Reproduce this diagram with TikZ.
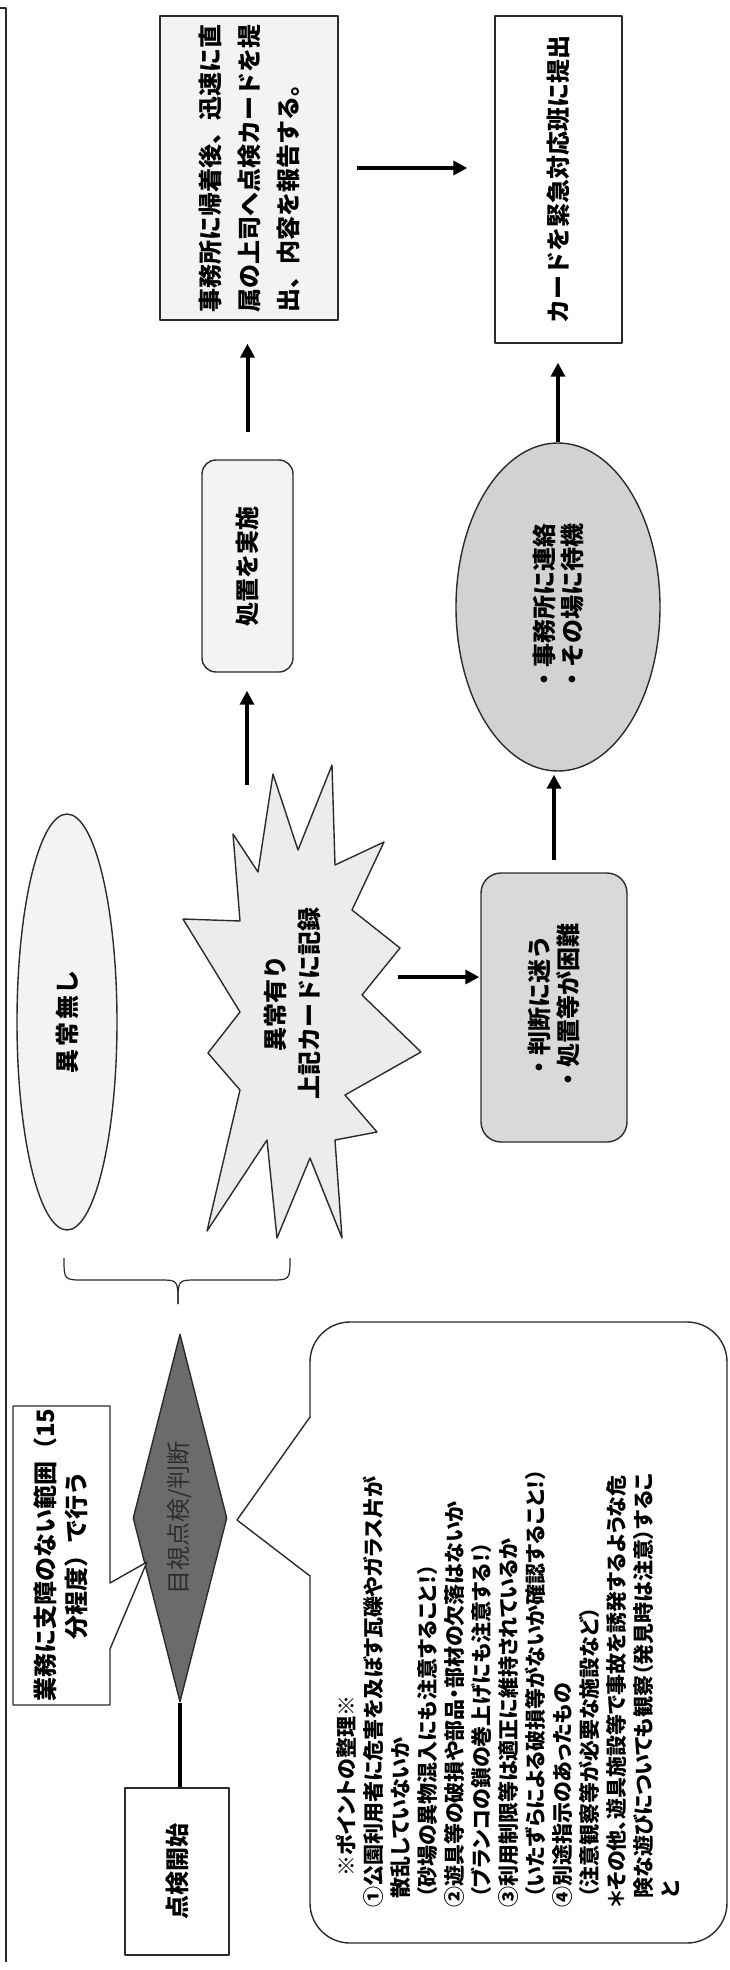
\documentclass[tikz,border=0pt]{standalone}
\usepackage{fontspec}
\setmainfont{Noto Sans CJK JP}
\newfontfamily\jpp{Noto Sans CJK JP}[RawFeature=+palt]
\usetikzlibrary{shapes.geometric,arrows.meta}
\definecolor{linec}{HTML}{2B2B2B}
\definecolor{pale}{HTML}{F3F3F3}
\definecolor{starc}{HTML}{ECECEC}
\definecolor{midg}{HTML}{D9D9D9}
\definecolor{ellg}{HTML}{D2D2D2}
\definecolor{dia}{HTML}{6B6B6B}
\definecolor{diatext}{HTML}{2E2E2E}
\tikzset{
  shp/.style={draw=linec, line width=1.4pt},
  lbl/.style={font=\bfseries\fontsize{24}{30}\selectfont, align=center},
  rot/.style={rotate=90, inner sep=0pt},
  arr/.style={line width=4pt, draw=black, -{Triangle[length=14pt,width=14pt]}},
}
\begin{document}
\begin{tikzpicture}[x=1pt, y=-1pt, line join=round]
\useasboundingbox (0,0) rectangle (730,1970);
% outer frame
\draw[line width=1.2pt, linec] (0,8) -- (6,8) -- (6,1962);

% start box
\node[shp, rot, fill=white, minimum width=167pt, minimum height=104pt, lbl] (start) at (177,1871.5) {点検開始};

% diamond
\node[diamond, shp, rot, fill=dia, aspect=4, minimum width=368pt, minimum height=94pt,
      font=\fontsize{24}{30}\selectfont, text=diatext] (diam) at (180,1518) {目視点検/判断};
\draw[line width=3.5pt] (diam.west) -- (diam.west |- start.east);

% callout box
\draw[shp, fill=white] (13,1406) -- (110,1406) -- (110,1583) -- (147,1562) -- (110,1649) -- (110,1705) -- (13,1705) -- cycle;
\node[rot, lbl, font=\bfseries\fontsize{24}{31}\selectfont] (gyomu) at (61,1555) {業務に支障のない範囲（15\\分程度）で行う};

% speech bubble
\node[shp, fill=white, rounded corners=40pt, minimum width=417pt, minimum height=621pt] (bubble) at (518.5,1632.5) {};
\fill[white] (308.4,1418) -- (238,1520) -- (308.4,1575) -- (312,1575) -- (312,1418) -- cycle;
\draw[shp] (310,1417) -- (237,1520) -- (310,1576);
\node[rot, anchor=north west, align=left, font=\jpp\bfseries\fontsize{21}{27}\selectfont] (btext) at (336,1908) {%
\hspace*{1.5em}※ポイントの整理※\\
①公園利用者に危害を及ぼす瓦礫やガラス片が\\
\hspace*{0.45em}散乱していないか\\
\hspace*{0.45em}（砂場の異物混入にも注意すること！）\\
②遊具等の破損や部品・部材の欠落はないか\\
\hspace*{0.45em}（ブランコの鎖の巻上げにも注意する！）\\
③利用制限等は適正に維持されているか\\
\hspace*{0.45em}（いたずらによる破損等がないか確認すること！）\\
④別途指示のあったもの\\
\hspace*{0.45em}（注意観察等が必要な施設など）\\
＊その他、遊具施設等で事故を誘発するような危\\
\hspace*{0.45em}険な遊びについても観察（発見時は注意）するこ\\
\hspace*{0.45em}と};

% brace
\draw[line width=1.2pt, linec] (64,1258) .. controls (64,1280) .. (84,1280) -- (160,1280) .. controls (178,1280) .. (178,1304);
\draw[line width=1.2pt, linec] (290,1258) .. controls (290,1280) .. (270,1280) -- (196,1280) .. controls (178,1280) .. (178,1304);

% no abnormality ellipse
\node[ellipse, shp, fill=pale, rot, minimum width=416pt, minimum height=100pt, lbl] (nasi) at (67,1022) {異\hspace{3pt}常\hspace{3pt}無\hspace{1pt}し};

% star
\draw[shp, fill=starc] (273,774) -- (298,850) -- (332,765) -- (335,865) -- (384,842) -- (352,910)
  -- (400,948) -- (362,995) -- (421,1052) -- (345,1095) -- (377,1132) -- (335,1140)
  -- (342,1238) -- (310,1158) -- (277,1238) -- (267,1140) -- (207,1231) -- (240,1090)
  -- (208,1053) -- (240,1012) -- (183,919) -- (240,921) -- (233,834) -- (258,872) -- cycle;
\node[rot, lbl, font=\bfseries\fontsize{24}{34}\selectfont] (star) at (292,1003) {異常有り\\上記カードに記録};
\coordinate (sT) at (247,785);
\coordinate (sR) at (398,977);

% action box
\node[shp, rot, fill=pale, rounded corners=14pt, minimum width=212pt, minimum height=91pt, lbl] (shochi) at (247.5,566) {処置を実施};

% report box
\node[shp, rot, fill=pale, minimum width=304pt, minimum height=178pt, align=left,
      font=\bfseries\fontsize{24}{39}\selectfont] (jimusho) at (249,168) {事務所に帰着後、迅速に直\\属の上司へ点検カードを提\\出、内容を報告する。};

% card box
\node[shp, rot, fill=white, minimum width=327pt, minimum height=127pt, lbl] (card) at (558.5,179.5) {カードを緊急対応班に提出};

% contact ellipse
\node[ellipse, shp, rot, fill=ellg, minimum width=328pt, minimum height=204pt, align=left,
      font=\bfseries\fontsize{24}{28}\selectfont] (renraku) at (558,607) {・事務所に連絡\\・その場に待機};

% difficult box
\node[shp, rot, fill=midg, rounded corners=20pt, minimum width=269pt, minimum height=146pt, align=center,
      font=\bfseries\fontsize{24}{29}\selectfont] (handan) at (554,1007.5) {・判断に迷う\\・処置等が困難};

% arrows
\draw[arr, shorten >=18pt] (sT) -- (sT |- shochi.west);
\draw[arr, shorten <=27pt, shorten >=23pt] (shochi.east) -- (shochi.east |- jimusho.west);
\draw[arr, shorten <=18pt, shorten >=27pt] (jimusho.south) -- (jimusho.south -| card.north);
\draw[arr, shorten >=1pt] (sR) -- (sR -| handan.north);
\draw[arr, shorten <=12pt, shorten >=3pt] (handan.east) -- (handan.east |- renraku.west);
\draw[arr, shorten >=19pt] (renraku.east) -- (renraku.east |- card.west);
\end{tikzpicture}
\end{document}
